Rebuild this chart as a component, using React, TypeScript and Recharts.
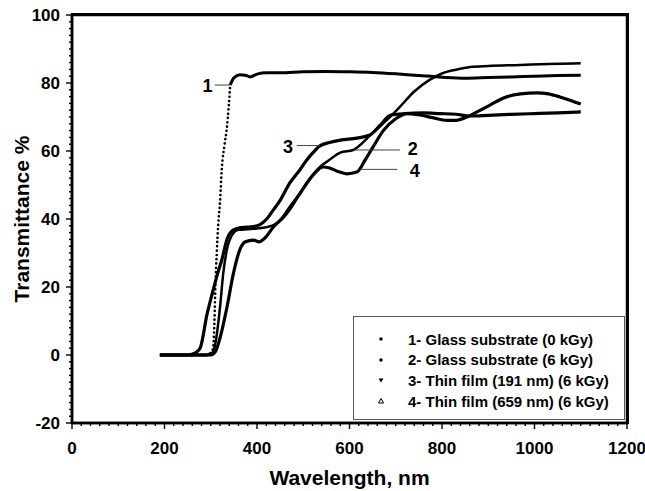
// UV-vis transmittance spectra, glass substrates and thin films
import { Label, Line, LineChart, ReferenceArea, ReferenceDot, ReferenceLine, XAxis, YAxis } from "recharts";

const FONT = "'Liberation Sans', Arial, Helvetica, sans-serif";

// wavelength (nm) / transmittance (%)
const glass0Nm = [190, 250, 290, 300, 305, 308, 310, 313, 316, 320, 324, 330, 335, 342, 350, 363, 375, 385, 400, 421, 450, 500, 550, 600, 650, 700, 750, 800, 850, 900, 950, 1000, 1050, 1100];
const glass0T = [0, 0, 0, 0.5, 2, 10, 20, 30, 38, 45, 55, 62, 67, 79.4, 81.5, 82.4, 82.3, 81.8, 82.6, 83, 83, 83.3, 83.4, 83.3, 83.1, 82.7, 82.2, 81.7, 81.4, 81.6, 81.8, 82, 82.2, 82.3];

const glass6Nm = [190, 250, 295, 305, 312, 320, 327, 335, 345, 360, 380, 400, 421, 440, 456, 475, 493, 515, 536, 557, 580, 608, 625, 644, 680, 709, 740, 774, 800, 830, 861, 900, 969, 1030, 1100];
const glass6T = [0, 0, 0, 1, 5, 14, 24, 31, 35, 36.8, 37, 37.2, 37.6, 38.5, 40.2, 43.5, 47.6, 52, 55.3, 57.4, 59.5, 60.3, 62, 64.5, 69, 73, 77.5, 81, 82.8, 83.9, 84.7, 85, 85.3, 85.6, 85.8];

const film191Nm = [190, 250, 265, 277, 292, 305, 315, 324, 335, 349, 365, 380, 400, 421, 435, 450, 471, 493, 508, 521, 536, 557, 580, 616, 644, 666, 688, 720, 760, 796, 830, 861, 900, 950, 1000, 1050, 1100];
const film191T = [0, 0, 0.5, 2, 12, 19, 24, 28, 34, 36.8, 37.5, 37.6, 38, 40, 42.6, 45.5, 50.6, 54.5, 57.4, 59.5, 61.5, 62.5, 63.2, 63.8, 64.7, 67.5, 70.5, 71, 71.2, 71, 70.8, 70.3, 70.5, 70.8, 71, 71.2, 71.5];

const film659Nm = [190, 250, 300, 310, 320, 335, 349, 363, 375, 392, 405, 421, 435, 456, 471, 493, 508, 525, 543, 557, 575, 594, 616, 634, 651, 673, 700, 724, 752, 780, 811, 830, 854, 880, 904, 933, 970, 1005, 1030, 1055, 1080, 1100];
const film659T = [0, 0, 0, 1, 5, 14, 24, 31, 33.3, 33.8, 33.3, 35, 37.6, 40.5, 43.5, 47.5, 50.6, 53.5, 55.3, 55, 54, 53.3, 53.8, 57.4, 61.2, 66, 69.5, 71, 70.6, 69.8, 69, 69, 70, 71.8, 73.5, 75.6, 76.8, 77.1, 76.8, 75.9, 74.8, 73.8];

const xMajor = [0, 200, 400, 600, 800, 1000, 1200];
const yMajor = [-20, 0, 20, 40, 60, 80, 100];
const xTicks = Array.from({ length: 61 }, (_, i) => i * 20);
const yTicks = Array.from({ length: 61 }, (_, i) => -20 + i * 2);

const legendItems = [
  "1- Glass substrate (0 kGy)",
  "2- Glass substrate (6 kGy)",
  "3- Thin film (191 nm) (6 kGy)",
  "4- Thin film (659 nm) (6 kGy)",
];

// curve labels: [text, label x, label y, leader from x, leader to x, leader y]
const callouts: [string, number, number, number, number, number][] = [
  ["1", 293, 79.3, 309, 342, 79.4],
  ["3", 467, 61.3, 486, 536, 61.6],
  ["2", 737, 60.8, 608, 709, 60.3],
  ["4", 741, 54.4, 623, 703, 54.6],
];

const toPoints = (nm: number[], t: number[]) => nm.map((x, i) => ({ nm: x, t: t[i] }));

const glass0Main = glass0Nm.map((x, i) => ({ nm: x, t: x > 300 && x < 342 ? null : glass0T[i] }));
const glass0Edge = glass0Nm.map((x, i) => ({ nm: x, t: x >= 300 && x <= 342 ? glass0T[i] : null }));

function XTick(props: any) {
  const { x, y, payload } = props;
  const major = xMajor.includes(payload.value);
  return (
    <g>
      <line x1={x} x2={x} y1={y} y2={y + (major ? 6 : 3)} stroke="#000" strokeWidth={1.4} />
      {major ? (
        <text x={x} y={y + 31} textAnchor="middle" fontSize={17} fontWeight="bold" fontFamily={FONT} fill="#000">
          {payload.value}
        </text>
      ) : null}
    </g>
  );
}

function YTick(props: any) {
  const { x, y, payload } = props;
  const major = yMajor.includes(payload.value);
  return (
    <g>
      <line x1={x} x2={x - (major ? 6 : 3)} y1={y} y2={y} stroke="#000" strokeWidth={1.4} />
      {major ? (
        <text x={x - 12} y={y + 6} textAnchor="end" fontSize={17} fontWeight="bold" fontFamily={FONT} fill="#000">
          {payload.value}
        </text>
      ) : null}
    </g>
  );
}

function LegendMark({ i }: { i: number }) {
  return (
    <svg width={8} height={8} style={{ display: "block" }}>
      {i === 0 ? <rect x={2.5} y={2.5} width={3} height={3} fill="#000" /> : null}
      {i === 1 ? <circle cx={4} cy={4} r={1.7} fill="#000" /> : null}
      {i === 2 ? <polygon points="1.5,2.5 6.5,2.5 4,6.5" fill="#000" /> : null}
      {i === 3 ? <polygon points="4,1.5 6.5,6 1.5,6" fill="none" stroke="#000" strokeWidth={1} /> : null}
    </svg>
  );
}

export default function App() {
  return (
    <div style={{ position: "absolute", left: 0, top: 0, width: 645, height: 491, background: "#fff" }}>
      <LineChart width={645} height={491} margin={{ top: 15, right: 18, left: 12, bottom: 28 }}>
        <XAxis
          dataKey="nm"
          type="number"
          domain={[0, 1200]}
          ticks={xTicks}
          interval={0}
          allowDataOverflow
          tickSize={0}
          tickMargin={0}
          tickLine={false}
          tick={<XTick />}
          height={40}
          axisLine={{ stroke: "#000", strokeWidth: 2.5 }}
        >
          <Label
            content={(p: any) => (
              <text
                x={p.viewBox.x + p.viewBox.width / 2}
                y={p.viewBox.y + 62}
                textAnchor="middle"
                fontSize={21}
                fontWeight="bold"
                fontFamily={FONT}
                fill="#000"
              >
                Wavelength, nm
              </text>
            )}
          />
        </XAxis>
        <YAxis
          type="number"
          domain={[-20, 100]}
          ticks={yTicks}
          interval={0}
          allowDataOverflow
          tickSize={0}
          tickMargin={0}
          tickLine={false}
          tick={<YTick />}
          width={60}
          axisLine={{ stroke: "#000", strokeWidth: 2.5 }}
        >
          <Label
            content={(p: any) => {
              const cx = p.viewBox.x + 17;
              const cy = p.viewBox.y + p.viewBox.height / 2;
              return (
                <text
                  x={cx}
                  y={cy}
                  transform={`rotate(-90, ${cx}, ${cy})`}
                  textAnchor="middle"
                  fontSize={21}
                  fontWeight="bold"
                  fontFamily={FONT}
                  fill="#000"
                >
                  Transmittance %
                </text>
              );
            }}
          />
        </YAxis>
        {/* plot frame */}
        <ReferenceArea
          x1={0}
          x2={1200}
          y1={-20}
          y2={100}
          ifOverflow="visible"
          fill="none"
          fillOpacity={0}
          stroke="#000"
          strokeWidth={2.5}
        />
        <Line data={glass0Main} dataKey="t" type="monotone" stroke="#000" strokeWidth={3} dot={false} isAnimationActive={false} />
        <Line
          data={glass0Edge}
          dataKey="t"
          type="monotone"
          stroke="#000"
          strokeWidth={2.6}
          strokeDasharray="0.1 4.2"
          strokeLinecap="round"
          dot={false}
          isAnimationActive={false}
        />
        <Line data={toPoints(glass6Nm, glass6T)} dataKey="t" type="monotone" stroke="#000" strokeWidth={2.5} dot={false} isAnimationActive={false} />
        <Line data={toPoints(film191Nm, film191T)} dataKey="t" type="monotone" stroke="#000" strokeWidth={3.2} dot={false} isAnimationActive={false} />
        <Line data={toPoints(film659Nm, film659T)} dataKey="t" type="monotone" stroke="#000" strokeWidth={3.2} dot={false} isAnimationActive={false} />
        {callouts.map(([label, lx, ly, x1, x2, y]) => (
          <ReferenceLine
            key={`l${label}`}
            segment={[{ x: x1, y }, { x: x2, y }]}
            stroke="#444"
            strokeWidth={1}
          />
        ))}
        {callouts.map(([label, lx, ly]) => (
          <ReferenceDot
            key={`d${label}`}
            x={lx}
            y={ly}
            r={1}
            shape={(p: any) => (
              <text x={p.cx} y={p.cy + 6.5} textAnchor="middle" fontSize={18} fontWeight="bold" fontFamily={FONT} fill="#000">
                {label}
              </text>
            )}
          />
        ))}
      </LineChart>
      <div
        style={{
          position: "absolute",
          left: 71,
          top: 13,
          width: 558,
          height: 411,
          border: "0 solid #000",
          borderTopWidth: 3,
          borderRightWidth: 3,
          boxSizing: "border-box",
          pointerEvents: "none",
        }}
      />
      <div
        style={{
          position: "absolute",
          left: 353,
          top: 316,
          width: 270,
          height: 102,
          border: "1px solid #555",
          background: "#fff",
          fontFamily: FONT,
          fontWeight: "bold",
          fontSize: 15,
          color: "#000",
          boxSizing: "content-box",
        }}
      >
        {legendItems.map((item, i) => (
          <div
            key={item}
            style={{ position: "absolute", left: 0, top: 13 + i * 20.7, height: 18, display: "flex", alignItems: "center" }}
          >
            <div style={{ width: 54, display: "flex", justifyContent: "center", paddingLeft: 0 }}>
              <LegendMark i={i} />
            </div>
            <span style={{ whiteSpace: "nowrap" }}>{item}</span>
          </div>
        ))}
      </div>
    </div>
  );
}
